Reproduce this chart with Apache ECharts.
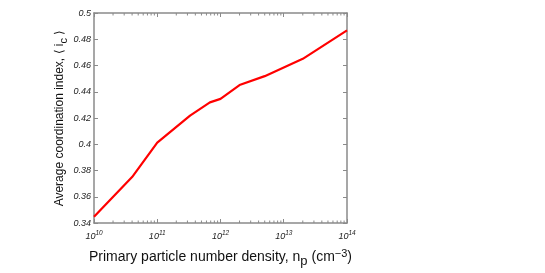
<!DOCTYPE html>
<html><head><meta charset="utf-8">
<script src="https://cdn.jsdelivr.net/npm/echarts@6/dist/echarts.min.js"></script>
<style>html,body{margin:0;padding:0;background:#fff}#c{width:545px;height:273px}</style>
</head><body><div id="c"></div>
<script>
// Data
const density = [1e10, 4e10, 1e11, 3.3e11, 6.8e11, 1e12, 2e12, 5e12, 2e13, 1e14];
const coordIndex = [0.3448, 0.375, 0.4013, 0.4218, 0.4319, 0.4346, 0.4451, 0.4519, 0.4651, 0.4868];
const xDecades = [10, 11, 12, 13, 14];
const yTicks = [0.34, 0.36, 0.38, 0.40, 0.42, 0.44, 0.46, 0.48, 0.50];
const minorTickValues = [];
for (const d of [10, 11, 12, 13]) for (let k = 2; k <= 9; k++) minorTickValues.push(k * Math.pow(10, d));

const axisColor = '#8a8a8a';
const font = 'Liberation Sans';
const chart = echarts.init(document.getElementById('c'), null, {renderer: 'canvas'});
const yMin = yTicks[0], yMax = yTicks[yTicks.length - 1];

chart.setOption({
  animation: false,
  grid: {left: 94, right: 198, top: 13, bottom: 38, containLabel: false},
  xAxis: [{
    type: 'log', logBase: 10, min: 1e10, max: 1e14,
    position: 'bottom',
    axisLine: {show: true, lineStyle: {color: axisColor, width: 1.5}},
    axisTick: {show: true, inside: true, length: 4, lineStyle: {color: axisColor}},
    splitLine: {show: false},
    axisLabel: {
      margin: 7,
      formatter: function (v) { const e = Math.round(Math.log10(v)); return '{b|10}{s|' + e + '}'; },
      rich: {
        b: {fontFamily: font, fontStyle: 'italic', fontSize: 9, color: '#222', lineHeight: 11, verticalAlign: 'bottom'},
        s: {fontFamily: font, fontStyle: 'italic', fontSize: 6.5, color: '#222', lineHeight: 11, verticalAlign: 'top'}
      }
    },
    name: 'Primary particle number density, n{sub|p} (cm{sup|−3})',
    nameLocation: 'middle', nameGap: 24,
    nameTextStyle: {
      fontFamily: font, fontSize: 14, color: '#111',
      rich: {
        sub: {fontFamily: font, fontSize: 13, color: '#111', padding: [8, 0, 0, 0]},
        sup: {fontFamily: font, fontSize: 11, color: '#111', padding: [0, 0, 8, 0]}
      }
    }
  }, {
    type: 'log', logBase: 10, min: 1e10, max: 1e14, position: 'top',
    axisLine: {show: true, lineStyle: {color: axisColor, width: 1.5}},
    axisTick: {show: true, inside: true, length: 4, lineStyle: {color: axisColor}},
    axisLabel: {show: false}, splitLine: {show: false}
  }],
  yAxis: [{
    type: 'value', min: yMin, max: yMax, interval: 0.02, position: 'left',
    axisLine: {show: true, lineStyle: {color: axisColor, width: 1.5}},
    axisTick: {show: true, inside: true, length: 4, lineStyle: {color: axisColor}},
    splitLine: {show: false},
    axisLabel: {
      margin: 3, fontFamily: font, fontStyle: 'italic', fontSize: 9, color: '#222',
      formatter: function (v) { return String(+v.toFixed(2)); }
    },
    name: 'Average coordination index, \u27E8 i{sub|c} \u27E9',
    nameLocation: 'middle', nameGap: 21,
    nameTextStyle: {
      fontFamily: font, fontSize: 12, color: '#111',
      rich: {sub: {fontFamily: font, fontSize: 11, color: '#111', padding: [8, 0, 0, 0]}}
    }
  }, {
    type: 'value', min: yMin, max: yMax, interval: 0.02, position: 'right',
    axisLine: {show: true, lineStyle: {color: axisColor, width: 1.5}},
    axisTick: {show: true, inside: true, length: 4, lineStyle: {color: axisColor}},
    axisLabel: {show: false}, splitLine: {show: false}
  }],
  series: [{
    type: 'line', xAxisIndex: 0, yAxisIndex: 0,
    data: density.map((d, i) => [d, coordIndex[i]]),
    showSymbol: false, symbol: 'none',
    lineStyle: {color: '#ff0000', width: 2.2},
    z: 5
  }, {
    type: 'custom', xAxisIndex: 0, yAxisIndex: 0, silent: true, clip: false,
    data: minorTickValues.map(v => [v, yMin]),
    renderItem: function (params, api) {
      const b = api.coord([api.value(0), yMin]);
      const t = api.coord([api.value(0), yMax]);
      const st = {stroke: axisColor, lineWidth: 1};
      return {type: 'group', children: [
        {type: 'line', shape: {x1: b[0], y1: b[1], x2: b[0], y2: b[1] - 2.5}, style: st},
        {type: 'line', shape: {x1: t[0], y1: t[1], x2: t[0], y2: t[1] + 2.5}, style: st}
      ]};
    },
    z: 3
  }]
});
</script></body></html>
